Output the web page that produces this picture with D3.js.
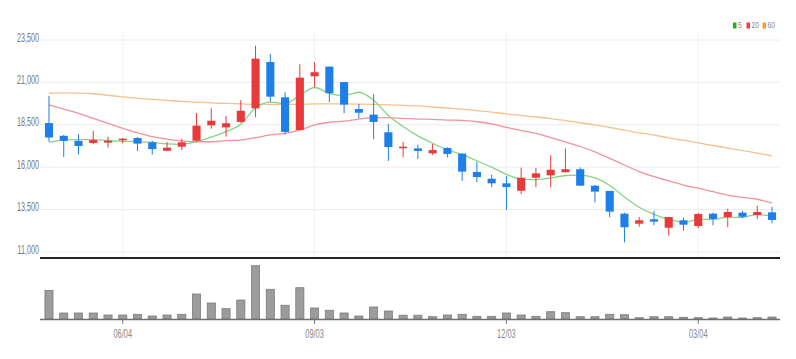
<!DOCTYPE html>
<html><head><meta charset="utf-8">
<script src="https://cdn.jsdelivr.net/npm/d3@7"></script>
<style>html,body{margin:0;padding:0;background:#fff;} svg{display:block;}</style>
</head><body><svg id="c" width="796" height="359"></svg>
<script>
const categories = ["04/30","05/07","05/14","05/21","05/28","06/04","06/11","06/18","06/25","07/02",
  "07/09","07/16","07/23","07/30","08/06","08/13","08/20","08/27","09/03","09/10",
  "09/17","09/24","10/01","10/08","10/15","10/22","10/29","11/05","11/12","11/19",
  "11/26","12/03","12/10","12/17","12/24","12/31","01/07","01/14","01/21","01/28",
  "02/04","02/11","02/18","02/25","03/04","03/11","03/18","03/25","04/01","04/08"];
const openV  = [18600,17850,17550,17430,17450,17600,17720,17470,16970,17210,17560,18470,18350,18670,19470,22200,20120,18190,21360,21930,21020,19430,19100,18060,17120,17110,16820,17130,16800,15720,15320,15050,14610,15380,15520,15700,15880,14910,14600,13260,12670,12930,12430,12870,12530,13260,13060,13320,13180,13340];
const highV  = [20200,17900,17950,18150,17800,17720,17780,17560,17500,17680,19200,19470,19020,19950,23160,22680,20420,22070,22200,21930,21020,19730,20300,18550,17500,17330,17370,17170,16820,16320,15560,15480,15970,15950,16700,17110,15990,14950,14600,13320,13060,13420,13060,13020,13320,13320,13550,13430,13730,13670];
const lowV   = [17500,16600,16750,17370,17150,17410,16950,16740,16950,17010,17500,18270,17800,18620,18940,19860,17920,18190,20710,19830,19180,18880,17650,16370,16580,16480,16720,16580,15200,15110,14830,13480,14420,14820,14820,15700,14910,13930,13050,11570,12490,12580,11960,12260,12400,12580,12460,12990,12950,12690];
const closeV = [17750,17550,17250,17600,17560,17680,17390,17070,17150,17470,18450,18740,18590,19330,22400,20160,18080,21280,21600,20360,19690,19210,18670,17190,17210,16960,17010,16780,15740,15420,15050,14830,15380,15640,15850,15880,14910,14560,13380,12460,12870,12790,13060,12610,13240,12950,13360,13080,13360,12890];
const volumeV = [286000,60000,60000,60000,40000,40000,47000,30000,40000,47000,250000,160000,103000,190000,533000,297000,137000,313000,110000,87000,60000,30000,120000,80000,38000,38000,23000,40000,47000,27000,27000,60000,40000,27000,73000,63000,23000,23000,47000,43000,13000,23000,23000,17000,13000,10000,20000,10000,13000,20000];
const ma5  = [17470,17600,17630,17630,17560,17530,17500,17460,17370,17350,17510,17780,18100,18530,19500,19840,19750,20230,20700,20350,20220,20420,19950,19050,18400,17850,17410,17030,16740,16380,16000,15580,15300,15270,15350,15510,15530,15370,14920,14240,13640,13220,12920,12770,12910,12930,13040,13050,13200,13130];
const ma20 = [19670,19430,19180,18880,18590,18290,18030,17800,17650,17550,17500,17500,17570,17600,17740,17900,18000,18190,18490,18650,18720,18840,18920,18920,18880,18840,18820,18780,18760,18680,18550,18350,18160,17990,17750,17490,17220,16900,16520,16130,15740,15440,15200,14950,14760,14560,14360,14220,14110,13890];
const ma60 = [20360,20380,20370,20330,20240,20150,20060,20000,19940,19880,19840,19790,19760,19730,19700,19700,19700,19700,19730,19730,19730,19720,19700,19670,19640,19610,19550,19490,19430,19340,19250,19140,19050,18960,18870,18750,18620,18490,18340,18190,18030,17890,17730,17590,17430,17280,17130,16980,16830,16670];
const yTicks = [11000,13500,16000,18500,21000,23500];
const xTickLabels = ["06/04","09/03","12/03","03/04"];
const legendItems = [{label:"5", color:"#22b022"},{label:"20", color:"#f03c4c"},{label:"60", color:"#ff9a2a"}];

const svg = d3.select('#c');
const plotL = 41.6, plotR = 779.4;
const x = d3.scaleBand().domain(categories).range([plotL, plotR]).paddingInner(0.45).paddingOuter(0.225);
const cx = c => x(c) + x.bandwidth()/2;
const y = d3.scaleLinear().domain([11000, 23500]).range([252, 40]);
const yv = d3.scaleLinear().domain([0, 560000]).range([319, 263]);
const font = "'Liberation Sans',Arial,sans-serif";
const UP = "#e8393b", DOWN = "#1f7fe8";

// gridlines
svg.append('g').selectAll('line').data(yTicks).join('line')
  .attr('x1', 40).attr('x2', 780).attr('y1', d => y(d)).attr('y2', d => y(d))
  .attr('stroke', '#ececec').attr('stroke-width', 1);
svg.append('g').selectAll('line').data(xTickLabels).join('line')
  .attr('x1', d => cx(d)).attr('x2', d => cx(d)).attr('y1', 30).attr('y2', 257)
  .attr('stroke', '#f0f0f0').attr('stroke-width', 1);

// y labels
svg.append('g').selectAll('g').data(yTicks).join('g')
  .attr('transform', d => `translate(39,${y(d)-1.5}) scale(0.6,1)`)
  .append('text').attr('text-anchor', 'end').attr('dominant-baseline', 'middle')
  .attr('font-family', font).attr('font-size', 12).attr('fill', '#777')
  .text(d => d3.format(',')(d));

// MA lines
const idx = d3.range(categories.length);
const mkLine = arr => d3.line().x(i => cx(categories[i])).y(i => y(arr[i])).curve(d3.curveMonotoneX)(idx);
[[ma60, '#f8c08c'], [ma20, '#f2939c'], [ma5, '#86d486']].forEach(([arr, col]) => {
  svg.append('path').attr('d', mkLine(arr)).attr('fill', 'none').attr('stroke', col).attr('stroke-width', 1.3);
});

// candles
const cg = svg.append('g');
idx.forEach(i => {
  const c = categories[i];
  const up = closeV[i] >= openV[i];
  const col = up ? UP : DOWN;
  cg.append('line').attr('x1', cx(c)).attr('x2', cx(c)).attr('y1', y(highV[i])).attr('y2', y(lowV[i]))
    .attr('stroke', col).attr('stroke-width', 1);
  const top = y(Math.max(openV[i], closeV[i])), bot = y(Math.min(openV[i], closeV[i]));
  cg.append('rect').attr('x', x(c)).attr('width', x.bandwidth())
    .attr('y', top).attr('height', Math.max(1.5, bot - top)).attr('fill', col);
});

// separator
svg.append('line').attr('x1', 40).attr('x2', 780).attr('y1', 258).attr('y2', 258)
  .attr('stroke', '#222').attr('stroke-width', 2);

// volume bars
svg.append('g').selectAll('rect').data(idx).join('rect')
  .attr('x', i => x(categories[i])).attr('width', x.bandwidth())
  .attr('y', i => yv(volumeV[i])).attr('height', i => yv(0) - yv(volumeV[i]))
  .attr('fill', '#9c9c9c').attr('stroke', '#7c7c7c').attr('stroke-width', 0.8);
svg.append('line').attr('x1', 40).attr('x2', 780).attr('y1', 319.5).attr('y2', 319.5)
  .attr('stroke', '#6f6f6f').attr('stroke-width', 1.5);

// x ticks
svg.append('g').selectAll('line').data(xTickLabels).join('line')
  .attr('x1', d => cx(d)).attr('x2', d => cx(d)).attr('y1', 319).attr('y2', 324)
  .attr('stroke', '#777').attr('stroke-width', 1);
svg.append('g').selectAll('g').data(xTickLabels).join('g')
  .attr('transform', d => `translate(${cx(d)},335) scale(0.62,1)`)
  .append('text').attr('text-anchor', 'middle').attr('dominant-baseline', 'middle')
  .attr('font-family', font).attr('font-size', 12).attr('fill', '#888')
  .text(d => d);

// legend
const lg = svg.append('g').attr('transform', 'translate(733,22.5)');
let lx = 0;
legendItems.forEach(it => {
  lg.append('rect').attr('x', lx).attr('y', 0).attr('width', 3.5).attr('height', 6).attr('fill', it.color);
  lg.append('g').attr('transform', `translate(${lx + 5},3.2) scale(0.7,1)`)
    .append('text').attr('dominant-baseline', 'middle').attr('font-family', font)
    .attr('font-size', 9.5).attr('fill', '#888').text(it.label);
  lx += (it.label.length === 1 ? 13.5 : 16);
});
</script>
</body></html>
